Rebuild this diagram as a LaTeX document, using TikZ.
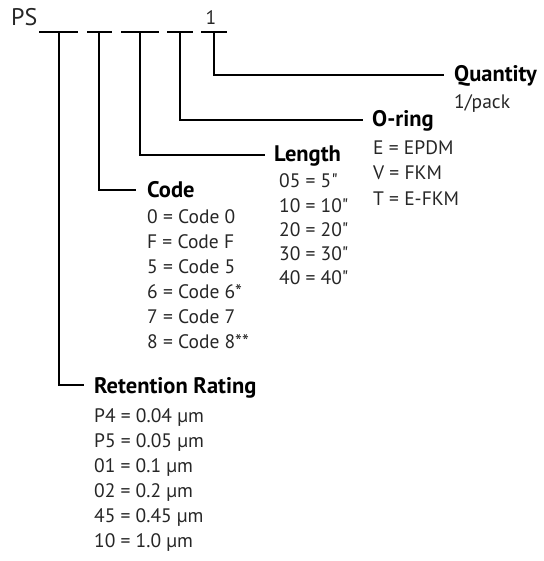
\documentclass[tikz,border=0pt]{standalone}
\usepackage{fontspec}
\setmainfont{PT Sans}
\usepackage{tikz}
\usetikzlibrary{positioning,calc}
\tikzset{
  link/.style={line width=1.6pt,draw=black},
  node-head/.style={anchor=base west,inner sep=0pt,
    font=\fontsize{22.5}{26}\selectfont\bfseries},
  node-item/.style={anchor=base west,inner sep=0pt,text=black!85,
    font=\fontsize{19.5}{24}\selectfont},
}

\begin{document}
\begin{tikzpicture}[x=1pt,y=-1pt]
  \useasboundingbox (0,0) rectangle (543,561);
  % part number with its blanks
  \node[node-item,font=\fontsize{24}{28}\selectfont] (ps) at (11,26) {PS};
  \node[node-item,anchor=base] (one) at (211,25) {1};
  \draw[link] (39,32) -- (78,32);
  \draw[link] (87,32) -- (112,32);
  \draw[link] (121,32) -- (159,32);
  \draw[link] (167,32) -- (193,32);
  \draw[link] (201,32) -- (227,32);
  \coordinate (b-ret) at (59,32);
  \coordinate (b-code) at (99,32);
  \coordinate (b-len) at (140,32);
  \coordinate (b-oring) at (180,32);
  \coordinate (b-qty) at (214,32);
  % headings
  \node[node-head] (qty) at (454,82) {Quantity};
  \node[node-head] (oring) at (372,127) {O-ring};
  \node[node-head] (len) at (274,162) {Length};
  \node[node-head] (code) at (147,197) {Code};
  \node[node-head] (ret) at (94,393) {Retention Rating};
  % option lists
  \node[node-item] (qty-0) at (454,109) {1/pack};
  \foreach \t [count=\i from 0] in {E = EPDM,V = FKM,T = E-FKM}
    \node[node-item] (oring-\i) at (373,{155+25*\i}) {\t};
  \foreach \t [count=\i from 0] in {05 = 5\textquotedbl,10 = 10\textquotedbl,20 = 20\textquotedbl,30 = 30\textquotedbl,40 = 40\textquotedbl}
    \node[node-item] (len-\i) at (279,{188+24*\i}) {\t};
  \foreach \t [count=\i from 0] in {0 = Code 0,F = Code F,5 = Code 5,6 = Code 6*,7 = Code 7,8 = Code 8**}
    \node[node-item] (code-\i) at (147,{223+25*\i}) {\t};
  \foreach \t [count=\i from 0] in {P4 = 0.04 µm,P5 = 0.05 µm,01 = 0.1 µm,02 = 0.2 µm,45 = 0.45 µm,10 = 1.0 µm}
    \node[node-item] (ret-\i) at (94,{422+25*\i}) {\t};
  % connectors
  \draw[link] (b-qty) |- ([xshift=-10pt,yshift=7pt]qty.base west);
  \draw[link] (b-oring) |- ([xshift=-9pt,yshift=7pt]oring.base west);
  \draw[link] (b-len) |- ([xshift=-9pt,yshift=7pt]len.base west);
  \draw[link] (b-code) |- ([xshift=-11pt,yshift=7pt]code.base west);
  \draw[link] (b-ret) |- ([xshift=-10pt,yshift=8pt]ret.base west);
\end{tikzpicture}
\end{document}
